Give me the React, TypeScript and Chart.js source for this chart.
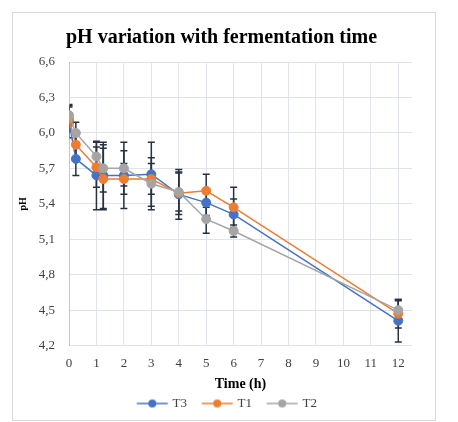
import { useEffect, useRef } from "react";
import { Chart, ChartConfiguration, registerables } from "chart.js";

Chart.register(...registerables);

const hours = [0, 0.25, 1, 1.25, 2, 3, 4, 5, 6, 12];
const seriesNames = ["T3", "T1", "T2"];
const phT3 = [6.09, 5.78, 5.64, 5.64, 5.64, 5.65, 5.48, 5.41, 5.31, 4.41];
const phT1 = [6.12, 5.9, 5.71, 5.61, 5.61, 5.61, 5.49, 5.51, 5.37, 4.47];
const phT2 = [6.15, 6.0, 5.8, 5.7, 5.7, 5.57, 5.5, 5.27, 5.17, 4.5];
const errT3 = [0.13, 0.14, 0.29, 0.28, 0.28, 0.27, 0.21, 0.11, 0.13, 0.18];
const errT1 = [0.11, 0.1, 0.17, 0.26, 0.13, 0.13, 0.18, 0.14, 0.17, 0.12];
const errT2 = [0.09, 0.09, 0.12, 0.2, 0.15, 0.22, 0.16, 0.12, 0.05, 0.08];
const colors = ["#4472C4", "#ED7D31", "#A5A5A5"];

const FONT = "'Liberation Serif', 'Times New Roman', serif";
const errors = [errT3, errT1, errT2];

// legend marker: a short line with a dot, shifted a bit to the right
function legendMarker(color: string) {
  const c = document.createElement("canvas");
  c.width = 48;
  c.height = 12;
  const ctx = c.getContext("2d");
  if (ctx) {
    const cx = 30.2;
    ctx.strokeStyle = color;
    ctx.lineWidth = 1.5;
    ctx.beginPath();
    ctx.moveTo(cx - 15.5, 6);
    ctx.lineTo(cx + 15.5, 6);
    ctx.stroke();
    ctx.fillStyle = color;
    ctx.beginPath();
    ctx.arc(cx, 6, 4, 0, Math.PI * 2);
    ctx.fill();
  }
  return c;
}

const errorBars = {
  id: "errorBars",
  beforeDatasetsDraw(chart: Chart) {
    const { ctx, chartArea } = chart;
    const yScale = chart.scales.y;
    ctx.save();
    ctx.beginPath();
    ctx.rect(chartArea.left + 0.5, chartArea.top - 2, chartArea.width, chartArea.height + 4);
    ctx.clip();
    ctx.strokeStyle = "#263242";
    ctx.lineWidth = 1.5;
    chart.data.datasets.forEach((ds, i) => {
      const meta = chart.getDatasetMeta(i);
      const errs = errors[i];
      meta.data.forEach((pt, j) => {
        const v = (ds.data[j] as { y: number }).y;
        const top = yScale.getPixelForValue(v + errs[j]);
        const bot = yScale.getPixelForValue(v - errs[j]);
        const x = pt.x;
        ctx.beginPath();
        ctx.moveTo(x, top);
        ctx.lineTo(x, bot);
        ctx.moveTo(x - 3.5, top);
        ctx.lineTo(x + 3.5, top);
        ctx.moveTo(x - 3.5, bot);
        ctx.lineTo(x + 3.5, bot);
        ctx.stroke();
      });
    });
    ctx.restore();
  },
};

export default function App() {
  const chartRef = useRef<HTMLCanvasElement>(null);
  const chartInstance = useRef<Chart | null>(null);

  useEffect(() => {
    if (!chartRef.current) return;
    if (chartInstance.current) chartInstance.current.destroy();
    const ctx = chartRef.current.getContext("2d");
    if (!ctx) return;

    const values = [phT3, phT1, phT2];
    const markers = colors.map(legendMarker);

    const config: ChartConfiguration = {
      type: "line",
      data: {
        datasets: seriesNames.map((name, i) => ({
          label: name,
          data: hours.map((h, j) => ({ x: h, y: values[i][j] })),
          borderColor: colors[i],
          backgroundColor: colors[i],
          borderWidth: 1.5,
          pointRadius: 4.5,
          pointBorderWidth: 1,
          pointBorderColor: colors[i],
          pointBackgroundColor: colors[i],
          tension: 0,
          order: 3 - i,
        })),
      },
      options: {
        animation: false,
        responsive: true,
        maintainAspectRatio: false,
        layout: { padding: { left: 18, right: 23, top: 0, bottom: 0 } },
        scales: {
          x: {
            type: "linear",
            min: 0,
            max: 12.5,
            grid: { color: "#dfe3ea", drawTicks: false },
            border: { display: false },
            ticks: {
              stepSize: 1,
              includeBounds: false,
              padding: 10,
              color: "#404040",
              font: { family: FONT, size: 13 },
            },
            title: {
              display: true,
              text: "Time (h)",
              color: "#000",
              font: { family: FONT, size: 14, weight: "bold" },
              padding: { top: -5, bottom: 0 },
            },
          },
          y: {
            min: 4.2,
            max: 6.6,
            afterFit(scale) {
              scale.width = 38;
            },
            grid: { color: "#dfe3ea", drawTicks: false },
            border: { display: true, color: "#c3c8d0" },
            ticks: {
              stepSize: 0.3,
              padding: 14,
              color: "#404040",
              font: { family: FONT, size: 13 },
              callback: (v) => Number(v).toFixed(1).replace(".", ","),
            },
            title: {
              display: true,
              text: "pH",
              color: "#000",
              font: { family: FONT, size: 10, weight: "bold" },
              padding: { top: -14, bottom: 0 },
            },
          },
        },
        plugins: {
          title: {
            display: true,
            text: "pH variation with fermentation time",
            color: "#000",
            font: { family: FONT, size: 20, weight: "bold" },
            padding: { top: 13, bottom: 12 },
          },
          legend: {
            position: "bottom",
            labels: {
              usePointStyle: true,
              pointStyleWidth: 40,
              padding: 4,
              color: "#404040",
              font: { family: FONT, size: 13 },
              generateLabels(chart) {
                const items = Chart.defaults.plugins.legend.labels.generateLabels(chart);
                return items
                  .map((it) => ({
                    ...it,
                    pointStyle: markers[it.datasetIndex as number],
                  }))
                  .sort((a, b) => (a.datasetIndex as number) - (b.datasetIndex as number));
              },
            },
          },
          tooltip: { enabled: false },
        },
      },
      plugins: [errorBars],
    };

    chartInstance.current = new Chart(ctx, config);

    return () => {
      if (chartInstance.current) chartInstance.current.destroy();
    };
  }, []);

  return (
    <div
      style={{
        position: "absolute",
        left: 12,
        top: 12,
        width: 424,
        height: 409,
        border: "1px solid #d9d9d9",
        boxSizing: "border-box",
        background: "#fff",
      }}
    >
      <div style={{ position: "relative", width: "100%", height: "100%" }}>
        <canvas ref={chartRef} />
      </div>
    </div>
  );
}
